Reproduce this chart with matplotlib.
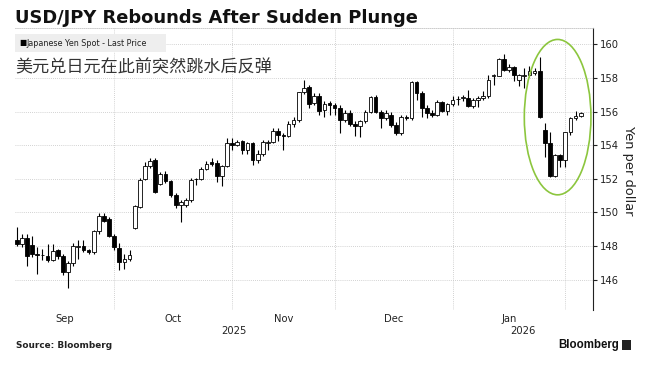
import numpy as np
import pandas as pd
import matplotlib
matplotlib.use("Agg")
import matplotlib.pyplot as plt
from matplotlib.patches import Ellipse, Rectangle
import matplotlib.transforms as mtransforms

# USD/JPY daily candles, 2025-09-04 .. 2026-02-05 (weekdays)
dates = pd.bdate_range("2025-09-04", "2026-02-05")

opens = [148.38, 148.10, 148.50, 148.08, 147.52, 147.46, 147.40, 147.18, 147.78, 147.40,
         146.48, 146.98, 147.96, 147.98, 147.74, 147.64, 148.88, 149.80, 149.60, 148.58,
         147.90, 147.04, 147.24, 149.10, 150.30, 151.98, 152.74, 153.10, 151.70, 152.28,
         151.88, 151.04, 150.44, 150.44, 150.74, 151.98, 152.00, 152.60, 153.00, 152.92,
         152.16, 152.76, 154.14, 154.04, 154.25, 153.72, 154.13, 153.10, 153.45, 154.16,
         154.17, 154.82, 154.58, 154.57, 155.25, 155.50, 157.14, 157.47, 156.53, 156.92,
         156.10, 156.49, 156.40, 156.24, 155.50, 155.90, 155.27, 155.12, 155.41, 155.96,
         156.88, 156.00, 155.60, 155.80, 155.20, 154.70, 155.70, 155.60, 157.76, 157.10,
         156.24, 155.94, 155.80, 156.56, 156.04, 156.44, 156.72, 156.82, 156.80, 156.36,
         156.66, 156.80, 156.90, 158.12, 158.14, 159.14, 158.50, 158.66, 157.90, 158.14,
         158.16, 158.30, 158.44, 154.90, 154.16, 152.16, 153.40, 153.10, 154.76, 155.60,
         155.76]
closes = [148.10, 148.50, 147.44, 147.54, 147.48, 147.48, 147.18, 147.68, 147.40, 146.44,
          147.00, 148.00, 148.00, 147.74, 147.64, 148.88, 149.80, 149.50, 148.58, 147.94,
          147.04, 147.24, 147.48, 150.38, 151.94, 152.74, 153.08, 151.24, 152.28, 151.88,
          151.04, 150.44, 150.64, 150.74, 151.94, 152.00, 152.60, 152.86, 152.90, 152.16,
          152.75, 154.16, 154.04, 154.22, 153.72, 154.13, 153.10, 153.45, 154.17, 154.20,
          154.82, 154.63, 154.56, 155.25, 155.50, 157.14, 157.43, 156.43, 156.92, 156.06,
          156.45, 156.40, 156.24, 155.50, 155.90, 155.27, 155.12, 155.41, 155.96, 156.88,
          156.00, 155.60, 155.90, 155.20, 154.72, 155.70, 155.60, 157.76, 157.10, 156.24,
          155.90, 155.80, 156.56, 156.04, 156.44, 156.70, 156.76, 156.86, 156.36, 156.66,
          156.80, 156.90, 157.90, 158.16, 159.14, 158.50, 158.66, 158.16, 158.16, 158.18,
          158.40, 158.44, 155.70, 154.16, 152.16, 153.40, 153.10, 154.76, 155.60, 155.76,
          155.94]
highs = [149.14, 148.74, 148.70, 148.58, 147.94, 147.80, 148.14, 148.14, 147.84, 147.54,
         147.14, 148.20, 148.34, 148.34, 147.84, 148.94, 149.94, 149.94, 149.74, 148.74,
         148.18, 147.54, 147.78, 150.44, 152.04, 153.00, 153.24, 153.24, 152.38, 152.44,
         151.94, 151.14, 150.74, 150.84, 152.04, 152.04, 152.70, 153.04, 153.24, 153.10,
         152.84, 154.40, 154.40, 154.30, 154.33, 154.22, 154.22, 153.74, 154.33, 154.33,
         155.00, 155.00, 154.74, 155.41, 155.70, 157.18, 157.86, 157.57, 157.08, 157.08,
         156.60, 156.60, 156.53, 156.40, 156.10, 156.10, 155.41, 155.50, 156.10, 156.92,
         156.98, 156.10, 156.10, 156.00, 155.36, 155.80, 155.80, 157.80, 157.80, 157.20,
         156.40, 156.10, 156.70, 156.64, 156.50, 156.90, 156.90, 157.00, 157.30, 156.80,
         156.90, 157.20, 158.20, 158.24, 159.20, 159.44, 158.80, 158.70, 158.24, 158.60,
         158.70, 158.60, 159.24, 155.30, 154.80, 153.50, 153.50, 154.80, 155.70, 156.04,
         156.00]
lows = [148.00, 147.94, 146.84, 147.38, 146.34, 147.20, 147.04, 147.10, 147.24, 146.30,
        145.50, 146.84, 147.24, 147.64, 147.54, 147.54, 148.74, 149.44, 148.54, 147.74,
        146.58, 146.64, 147.10, 149.04, 150.24, 151.94, 152.64, 151.18, 151.64, 151.74,
        150.94, 150.24, 149.44, 150.34, 150.64, 151.64, 151.94, 152.54, 152.74, 151.80,
        151.60, 152.70, 153.70, 153.98, 153.45, 153.50, 152.85, 152.95, 153.35, 153.74,
        154.14, 154.23, 153.70, 154.47, 155.10, 155.40, 157.06, 156.20, 156.39, 155.80,
        155.70, 155.80, 155.80, 154.73, 155.40, 155.12, 154.57, 154.47, 155.30, 155.90,
        155.90, 155.00, 155.50, 155.10, 154.60, 154.60, 155.50, 155.50, 156.70, 155.70,
        155.60, 155.70, 155.76, 156.00, 155.80, 156.36, 156.40, 156.60, 156.30, 156.24,
        156.30, 156.70, 156.80, 157.60, 158.10, 158.40, 158.36, 157.80, 157.50, 157.40,
        158.04, 158.20, 155.64, 153.30, 152.10, 152.10, 152.70, 152.70, 154.60, 155.50,
        155.70]

yticks = [146, 148, 150, 152, 154, 156, 158, 160]
title = "USD/JPY Rebounds After Sudden Plunge"
subtitle = "美元兑日元在此前突然跳水后反弹"
legend_label = "Japanese Yen Spot - Last Price"

W, H = 656, 371
fig = plt.figure(figsize=(W / 100, H / 100), dpi=100)
fig.patch.set_facecolor("white")

def fx(x):
    return x / W

def fy(y):
    return 1 - y / H

ax = fig.add_axes([fx(15), fy(310), fx(593 - 15), (310 - 27.5) / H])
ax.patch.set_alpha(0)

o = np.array(opens)
c = np.array(closes)
hi = np.array(highs)
lo = np.array(lows)
x = np.arange(len(dates))
up = c >= o

# wicks
ax.vlines(x, lo, hi, color="black", lw=0.8, zorder=3)
# bodies
body_h = np.maximum(np.abs(c - o), 0.04)
body_b = np.minimum(o, c)
ax.bar(x[up], body_h[up], bottom=body_b[up], width=0.72, color="white",
       edgecolor="black", linewidth=0.6, zorder=4)
ax.bar(x[~up], body_h[~up], bottom=body_b[~up], width=0.72, color="black",
       edgecolor="black", linewidth=0.6, zorder=4)

xmin, xmax = -0.35, len(dates) + 1.4
ax.set_xlim(xmin, xmax)
ax.set_ylim(144.2, 161.0)

# month gridlines at first trading day of each month
months = dates.to_period("M")
first_idx = [i for i in range(1, len(dates)) if months[i] != months[i - 1]]
ax.set_xticks(first_idx)
ax.set_xticklabels([])
ax.tick_params(axis="x", which="major", length=0)

# month labels centered between gridlines
edges = [xmin] + first_idx
label_pos, label_txt = [], []
for a, b in zip(edges[:-1], edges[1:]):
    label_pos.append((a + b) / 2)
    label_txt.append(dates[max(int(np.ceil(a)), 0)].strftime("%b"))
ax.set_xticks(label_pos, minor=True)
ax.set_xticklabels(label_txt, minor=True, fontsize=7.2, color="#222222")
ax.tick_params(axis="x", which="minor", length=0, pad=3)

# year labels
trans = mtransforms.blended_transform_factory(ax.transData, ax.transAxes)
jan = [i for i in first_idx if dates[i].month == 1][0]
ax.text((xmin + jan) / 2, -0.074, "2025", transform=trans, ha="center", va="center",
        fontsize=7.2, color="#222222")
ax.text((jan + xmax) / 2, -0.074, "2026", transform=trans, ha="center", va="center",
        fontsize=7.2, color="#222222")

ax.set_yticks(yticks)
ax.yaxis.tick_right()
ax.tick_params(axis="y", length=3, width=0.8, pad=2, labelsize=7.2, colors="#222222")
ax.grid(True, which="major", linestyle=(0, (1, 1.5)), color="#c4c4c4", lw=0.6)
ax.set_axisbelow(True)

for s in ["left", "bottom"]:
    ax.spines[s].set_visible(False)
ax.spines["top"].set_linestyle((0, (1, 1.5)))
ax.spines["top"].set_color("#c4c4c4")
ax.spines["top"].set_linewidth(0.6)
ax.spines["right"].set_color("#222222")
ax.spines["right"].set_linewidth(0.8)

# highlight the plunge and rebound
k = int(np.argmax(o - c))
last = len(dates) - 1
seg_hi, seg_lo = hi[k:].max(), lo[k:].min()
ell = Ellipse(((k + last) / 2 - 0.5, (seg_hi + seg_lo) / 2), width=(last - k) + 5,
              height=(seg_hi - seg_lo) + 2.1, fill=False, edgecolor="#8cc63e",
              lw=1.2, zorder=6)
ax.add_patch(ell)

# header
fig.text(fx(15), fy(18), title, fontsize=12.9, fontweight="bold", va="center",
         family="DejaVu Sans", color="#111111")
fig.patches.append(Rectangle((fx(15), fy(52)), fx(151), 18 / H, transform=fig.transFigure,
                             facecolor="#eeeeee", edgecolor="none", zorder=0))
fig.text(fx(19), fy(43), "■", fontsize=5.5, va="center", color="black")
fig.text(fx(26.5), fy(43), legend_label, fontsize=5.8, va="center", color="#222222")
fig.text(fx(15), fy(67), subtitle, fontsize=12.3, va="center", color="#333333",
         family=["Noto Sans CJK SC", "DejaVu Sans"])

fig.text(fx(628), fy(171), "Yen per dollar", rotation=270, ha="center", va="center",
         fontsize=9.4, color="#222222")

# footer
fig.text(fx(16), fy(345), "Source: Bloomberg", fontsize=6.4, fontweight="bold",
         va="center", color="#222222")
fig.text(fx(619), fy(345), "Bloomberg", fontsize=8.3, fontweight="bold", ha="right",
         va="center", family="Liberation Sans", color="#111111")
fig.patches.append(Rectangle((fx(622), fy(350)), fx(9), 10 / H, transform=fig.transFigure,
                             facecolor="#222222", edgecolor="none"))

fig.savefig("out.png", dpi=100)
